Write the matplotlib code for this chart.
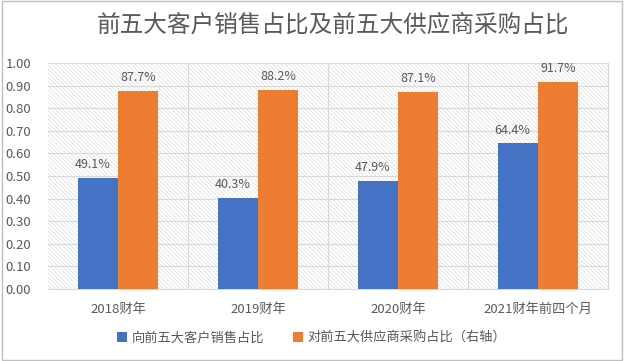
import numpy as np
import matplotlib.pyplot as plt
import matplotlib as mpl
from matplotlib.patches import Rectangle

plt.rcParams['font.family'] = ['Noto Sans CJK SC', 'DejaVu Sans']
mpl.rcParams['hatch.linewidth'] = 0.4

categories = ['2018财年', '2019财年', '2020财年', '2021财年前四个月']
customer = [0.491, 0.403, 0.479, 0.644]
supplier = [0.877, 0.882, 0.871, 0.917]
labels = ['向前五大客户销售占比', '对前五大供应商采购占比（右轴）']
title = '前五大客户销售占比及前五大供应商采购占比'

blue = '#4472c4'
orange = '#ed7d31'
grey_txt = '#595959'

fig = plt.figure(figsize=(6.24, 3.61), dpi=100)
ax = fig.add_axes([48/624, 1-289/361, 560/624, 226/361])

# 斜线底纹背景
mpl.rcParams['hatch.color'] = '#d6d6d6'
bg = Rectangle((0, 0), 1, 1, transform=ax.transAxes, facecolor='white',
               edgecolor='#d6d6d6', hatch='\\\\\\\\\\\\\\\\', linewidth=0, zorder=0)
ax.add_patch(bg)

x = np.arange(len(categories))
w = 0.285
b1 = ax.bar(x - w/2, customer, w, color=blue, label=labels[0], zorder=3)
b2 = ax.bar(x + w/2, supplier, w, color=orange, label=labels[1], zorder=3)

for rect, v in zip(b1, customer):
    ax.text(rect.get_x() + rect.get_width()/2 - 0.04, v + 0.03, f'{v*100:.1f}%',
            ha='center', va='bottom', fontsize=9, color=grey_txt, zorder=4)
for rect, v in zip(b2, supplier):
    ax.text(rect.get_x() + rect.get_width()/2, v + 0.03, f'{v*100:.1f}%',
            ha='center', va='bottom', fontsize=9, color=grey_txt, zorder=4)

ax.set_xlim(-0.5, 3.5)
ax.set_ylim(0, 1.0)
ax.set_yticks(np.arange(0, 1.01, 0.1))
ax.set_yticklabels([f'{t:.2f}' for t in np.arange(0, 1.01, 0.1)])
ax.set_xticks(x)
ax.set_xticklabels(categories)
ax.tick_params(axis='both', length=0, labelsize=9.5, colors=grey_txt)
ax.tick_params(axis='x', pad=10)
ax.tick_params(axis='y', pad=12)

ax.yaxis.grid(True, color='#d9d9d9', linewidth=0.8, zorder=1)
for xv in [0.5, 1.5, 2.5]:
    ax.axvline(xv, color='#d9d9d9', linewidth=0.8, zorder=1)
for s in ['top', 'left']:
    ax.spines[s].set_visible(False)
ax.spines['bottom'].set_color('#d9d9d9')
ax.spines['right'].set_color('#d9d9d9')
ax.set_axisbelow(True)

fig.text(333/624, 1-25/361, title, ha='center', va='center', fontsize=17,
         color=grey_txt, fontweight='light')

fig.legend(handles=[b1, b2], labels=labels, loc='center', bbox_to_anchor=(312/624, 1-338/361),
           ncol=2, frameon=False, fontsize=9.5, handlelength=0.7, handleheight=0.7,
           columnspacing=2.2, handletextpad=0.4, labelcolor=grey_txt)

fig.add_artist(Rectangle((0.003, 0.004), 0.994, 0.992, transform=fig.transFigure,
                         fill=False, edgecolor='#bfbfbf', linewidth=1))

fig.savefig('out.png', dpi=100)
